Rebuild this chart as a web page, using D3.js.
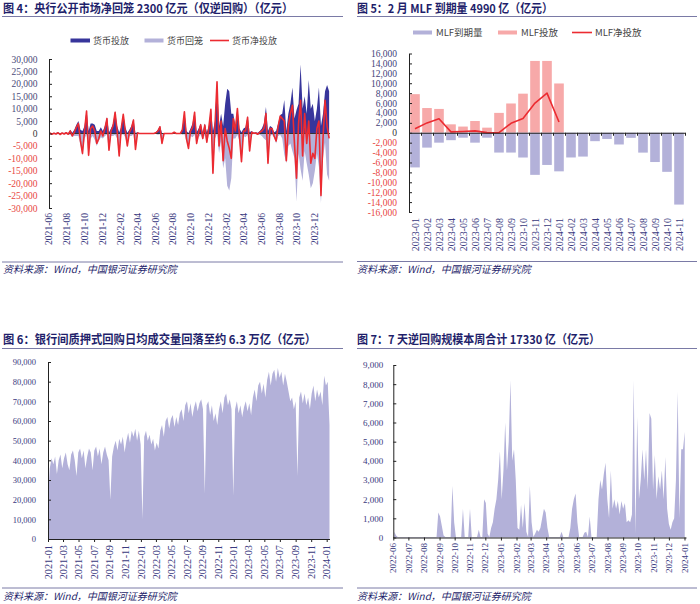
<!DOCTYPE html>
<html><head><meta charset="utf-8">
<script src="https://cdn.jsdelivr.net/npm/d3@7"></script>
<style>body{margin:0;background:#fff}svg{display:block}</style>
</head><body>
<svg id="c" width="700" height="604"></svg>
<script>
// ---------- Figure 4: weekly OMO (亿元), weeks from 2021-06-04 ----------
const inj4 = [300,100,300,200,500,100,300,200,500,100,1500,300,1500,3500,5000,1500,1000,3000,9500,1000,
4000,4000,3500,1000,1000,2500,1000,3000,6500,500,2000,4000,9000,3000,500,2500,8000,2500,300,1500,
3000,5800,200,500,100,100,100,100,100,100,100,100,500,1500,3000,200,100,100,100,100,
100,600,100,100,100,2000,9000,1000,200,2000,4000,9000,500,2000,4000,500,4000,500,3000,10000,
1000,5000,21000,3000,8000,3000,12000,18000,17000,8000,8000,3000,10500,2000,500,2000,2500,7000,500,1000,
300,500,300,1000,2000,4000,10700,1000,3000,2500,500,1000,4000,7500,8000,13500,1000,8000,12000,18500,
6000,9500,12000,27800,10000,15000,8000,21500,10000,12000,5000,10000,18500,3000,8000,17000,19500,17000];
const wd4 = [-100,-400,-200,-400,-200,-500,-100,-400,-200,-400,-500,-1300,-1000,-1000,-1000,-4500,-9000,-2000,-500,-9700,
-2000,-1000,-2500,-5000,-3000,-1500,-2000,-1000,-500,-7200,-1000,-1000,-500,-2000,-9500,-500,-300,-1500,-5300,-1000,
-1000,-400,-6600,-300,-100,-100,-100,-100,-100,-100,-100,-100,-200,-500,-300,-4200,-100,-100,-100,-100,
-100,-100,-100,-100,-100,-500,-300,-3000,-6200,-1000,-1500,-500,-4500,-1500,-500,-2500,-600,-4000,-500,-300,
-17000,-2000,-200,-8000,-3000,-14000,-10000,-21000,-23000,-18000,-2000,-2000,-500,-3000,-11900,-1000,-1500,-500,-7500,-500,
-200,-300,-600,-500,-1000,-2000,-2700,-13000,-1000,-500,-1500,-4000,-1000,-500,-2000,-8500,-12000,-5000,-4000,-7100,
-10000,-27500,-8000,-14400,-19000,-7000,-12000,-16500,-22000,-20000,-15000,-8000,-13500,-28000,-10000,-3600,-16500,-19000];
const net4 = [200,-300,100,-200,300,-400,200,-200,300,-300,1000,-1000,500,2500,4000,-3000,-8000,1000,9000,-8700,
2000,3000,1000,-4000,-2000,1000,-1000,2000,6000,-6700,1000,3000,8500,1000,-9000,2000,7700,1000,-5000,500,
2000,5400,-6400,200,0,0,0,0,0,0,0,0,300,1000,2700,-4000,0,0,0,0,
0,500,0,0,0,1500,8700,-2000,-6000,1000,2500,8500,-4000,500,3500,-2000,3400,-3500,2500,9700,
-16000,3000,20800,-5000,5000,-11000,2000,-3000,-6000,-10000,6000,1000,10000,-1000,-11400,1000,1000,6500,-7000,500,
100,200,-300,500,1000,2000,8000,-12000,2000,2000,-1000,-3000,3000,7000,6000,5000,-11000,3000,8000,11400,
-4000,-18000,4000,13400,-9000,8000,-4000,5000,-12000,-8000,-10000,2000,5000,-25000,-2000,13400,3000,-2000];
const yTicks4 = [-30000,-25000,-20000,-15000,-10000,-5000,0,5000,10000,15000,20000,25000,30000];
const legend4 = ["货币投放","货币回笼","货币净投放"];

// ---------- Figure 5: MLF (亿元) ----------
const cats5 = ["2023-01","2023-02","2023-03","2023-04","2023-05","2023-06","2023-07","2023-08","2023-09","2023-10","2023-11","2023-12",
"2024-01","2024-02","2024-03","2024-04","2024-05","2024-06","2024-07","2024-08","2024-09","2024-10","2024-11"];
const mlfDue = [-7000,-3000,-2000,-1500,-1000,-2000,-1000,-4000,-4000,-5000,-8500,-6500,-7790,-4990,-4810,-1700,-1250,-2370,-1030,-4010,-5910,-7890,-14500];
const mlfIssue = [7790,4990,4810,1700,1250,2370,1030,4010,5910,7890,14500,14500,9950];
const mlfNet = [790,1990,2810,170,250,370,30,10,1910,2890,6000,8000,2160];
const yTicks5 = [-16000,-14000,-12000,-10000,-8000,-6000,-4000,-2000,0,2000,4000,6000,8000,10000,12000,14000,16000];
const legend5 = ["MLF到期量","MLF投放","MLF净投放"];

// ---------- Figure 6: weekly pledged repo daily avg volume (亿元), weeks from 2021-01-01 ----------
const repo6 = [20000,36000,41000,38000,42000,33000,40000,43000,36000,41000,44000,38000,35000,43000,45000,40000,32000,44000,46000,41000,
45000,36000,42000,46000,44000,35000,45000,47000,42000,46000,38000,44000,47000,43000,40000,20000,42000,47000,50000,45000,
51000,48000,52000,44000,50000,54000,49000,55000,52000,56000,50000,55000,48000,10000,52000,55000,50000,53000,48000,51000,
45000,49000,46000,55000,58000,52000,60000,62000,56000,61000,63000,57000,62000,58000,64000,66000,60000,68000,70000,64000,
69000,62000,67000,70000,65000,69000,71000,66000,23000,68000,70000,63000,68000,60000,64000,58000,66000,70000,64000,72000,
74000,68000,71000,66000,22000,66000,70000,64000,68000,62000,67000,70000,65000,69000,63000,72000,76000,70000,78000,80000,
74000,79000,72000,81000,85000,78000,84000,86000,80000,87000,82000,85000,78000,84000,80000,75000,70000,72000,66000,70000,
32000,72000,75000,69000,74000,68000,72000,66000,74000,78000,70000,76000,72000,75000,68000,83000,78000,80000,58000];
const yTicks6 = [0,10000,20000,30000,40000,50000,60000,70000,80000,90000];

// ---------- Figure 7: 7-day reverse repo (亿元), every 3.5 days from 2022-06-03 ----------
const rr7 = [300,100,20,20,20,20,20,20,20,20,20,20,20,20,20,20,20,20,20,20,
20,20,20,20,20,1300,1100,600,100,20,20,20,20,2700,800,20,20,20,20,1500,
20,20,20,1500,20,20,20,20,400,20,20,2000,1800,200,20,500,800,1500,2000,3000,
4500,2000,3500,6000,3500,5000,8200,4000,4600,3000,500,400,1700,500,1800,300,20,2700,800,20,
200,400,300,500,1000,1500,1300,500,20,20,20,20,20,20,20,300,20,20,20,20,
500,1500,2000,2300,800,20,20,20,250,300,20,1100,20,20,20,20,2000,3000,2500,3300,
3900,2000,1000,3500,1500,2000,1500,1900,1200,1900,1500,1800,800,900,800,1200,8200,200,6300,2000,
3000,4600,3000,4600,2500,6500,6200,2500,4300,2000,3200,2500,3500,2000,4200,1500,700,400,800,1000,
3000,7600,1000,4600,4600,5500];
const yTicks7 = [0,1000,2000,3000,4000,5000,6000,7000,8000,9000];

const titles = ["图 4：央行公开市场净回笼 2300 亿元（仅逆回购）（亿元）",
"图 5：2 月 MLF 到期量 4990 亿（亿元）",
"图 6：银行间质押式回购日均成交量回落至约 6.3 万亿（亿元）",
"图 7：7 天逆回购规模本周合计 17330 亿（亿元）"];
const source = "资料来源：Wind，中国银河证券研究院";

// ---------- styles ----------
const NAVY="#1f1f6b", RULE="#7a7aa6", TXT="#3a3a80", LAV="#b3b1d9", BLUE="#37359b", RED="#ec2b31", PINK="#f7a9a9", NEG="#e8473f";
const SERIF="'Liberation Serif','Times New Roman',serif";
const CJK="'Noto Sans CJK SC','Noto Sans',sans-serif";
const fmt = d3.formatLocale({decimal:".",thousands:",",grouping:[3],currency:["",""],minus:"-"}).format(",");
const svg = d3.select("#c");

function header(x, y, text, w, x1, x2, ly){
  svg.append("text").attr("x",x).attr("y",y).attr("font-family",CJK).attr("font-weight","bold")
    .attr("font-size",12).attr("fill",NAVY).attr("textLength",w).attr("lengthAdjust","spacingAndGlyphs").text(text);
  svg.append("line").attr("x1",x1).attr("x2",x2).attr("y1",ly).attr("y2",ly).attr("stroke",RULE).attr("stroke-width",1);
}
function footer(x, y, x1, x2, ly){
  svg.append("line").attr("x1",x1).attr("x2",x2).attr("y1",ly).attr("y2",ly).attr("stroke",RULE).attr("stroke-width",1);
  svg.append("text").attr("x",x).attr("y",y).attr("font-family",CJK).attr("font-style","italic")
    .attr("font-size",10).attr("fill",NAVY).text(source);
}
function yAxis(scale, x, ticks, size, pad, colorFn){
  const g = svg.append("g").attr("transform",`translate(${x},0)`)
    .call(d3.axisLeft(scale).tickValues(ticks).tickFormat(fmt).tickSizeInner(-3).tickSizeOuter(0).tickPadding(pad));
  g.attr("font-family",SERIF);
  g.select(".domain").attr("stroke","#222");
  g.selectAll(".tick line").attr("stroke","#222");
  g.selectAll("text").attr("font-family",SERIF).attr("font-size",size).attr("fill",d=>colorFn(d));
  return g;
}
function xLabels(items, xf, yTop, size){
  svg.append("g").selectAll("text").data(items).join("text")
    .attr("transform",d=>`translate(${xf(d.v)},${yTop}) rotate(-90)`)
    .attr("text-anchor","end").attr("dy","0.35em")
    .attr("font-family",SERIF).attr("font-size",size).attr("fill",TXT).text(d=>d.t);
}
const ym = d3.timeFormat("%Y-%m");

// ================= Figure 4 =================
header(3,13,titles[0],290,2,343,16.5);
const x4 = d3.scaleTime().domain([new Date(2021,5,1), new Date(2024,0,22)]).range([49,330]);
const y4 = d3.scaleLinear().domain([-30000,30000]).range([208,59]);
const d4 = inj4.map((v,i)=>({date:d3.timeDay.offset(new Date(2021,5,4),7*i), inj:v, wd:wd4[i], net:net4[i]}));
svg.append("path").datum(d4).attr("fill",LAV)
  .attr("d",d3.area().x(d=>x4(d.date)).y0(y4(0)).y1(d=>y4(d.wd)));
svg.append("path").datum(d4).attr("fill",BLUE)
  .attr("d",d3.area().x(d=>x4(d.date)).y0(y4(0)).y1(d=>y4(d.inj)));
svg.append("line").attr("x1",49).attr("x2",330).attr("y1",y4(0)).attr("y2",y4(0)).attr("stroke","#333").attr("stroke-width",1);
svg.append("path").datum(d4).attr("fill","none").attr("stroke",RED).attr("stroke-width",1.6).attr("stroke-linejoin","round")
  .attr("d",d3.line().x(d=>x4(d.date)).y(d=>y4(d.net)));
yAxis(y4,49,yTicks4,9.5,11.5,d=>d<0?NEG:(d===0?"#333":"#4a4a78"));
xLabels(d3.timeMonth.range(new Date(2021,5,1),new Date(2024,0,2),2).map(d=>({v:d,t:ym(d)})), x4, 213, 9.6);
{
  const g = svg.append("g").attr("font-family",CJK).attr("font-size",9).attr("fill","#444");
  g.append("rect").attr("x",70.5).attr("y",38.5).attr("width",19.5).attr("height",4).attr("fill",BLUE);
  g.append("text").attr("x",93).attr("y",43.5).text(legend4[0]);
  g.append("rect").attr("x",144.5).attr("y",38.5).attr("width",19).attr("height",4).attr("fill",LAV);
  g.append("text").attr("x",167).attr("y",43.5).text(legend4[1]);
  g.append("line").attr("x1",210).attr("x2",229).attr("y1",40.5).attr("y2",40.5).attr("stroke",RED).attr("stroke-width",1.6);
  g.append("text").attr("x",232).attr("y",43.5).text(legend4[2]);
}
footer(3,273,2,343,262);

// ================= Figure 5 =================
header(357,13,titles[1],196,357,697,16.5);
const x5 = d3.scaleBand().domain(cats5).range([409,685]).paddingInner(0.2).paddingOuter(0.1);
const y5 = d3.scaleLinear().domain([-16000,16000]).range([212,53.5]);
svg.append("g").selectAll("rect").data(mlfIssue).join("rect")
  .attr("x",(d,i)=>x5(cats5[i])).attr("width",x5.bandwidth())
  .attr("y",d=>y5(d)).attr("height",d=>y5(0)-y5(d)).attr("fill",PINK);
svg.append("g").selectAll("rect").data(mlfDue).join("rect")
  .attr("x",(d,i)=>x5(cats5[i])).attr("width",x5.bandwidth())
  .attr("y",y5(0)).attr("height",d=>y5(d)-y5(0)).attr("fill",LAV);
svg.append("path").datum(mlfNet).attr("fill","none").attr("stroke",RED).attr("stroke-width",1.6).attr("stroke-linejoin","round")
  .attr("d",d3.line().x((d,i)=>x5(cats5[i])+x5.bandwidth()/2).y(d=>y5(d)));
{
  const g = svg.append("g").attr("transform",`translate(0,${y5(0)})`)
    .call(d3.axisBottom(d3.scalePoint().domain(d3.range(24)).range([409,685])).tickSizeInner(3).tickSizeOuter(0).tickFormat(""));
  g.select(".domain").attr("stroke","#222");
  g.selectAll(".tick line").attr("stroke","#222");
}
yAxis(y5,409,yTicks5,9.5,12,d=>d<0?NEG:(d===0?"#333":"#3f3f7a"));
xLabels(cats5.map(c=>({v:c,t:c})), c=>x5(c)+x5.bandwidth()/2, 218, 10);
{
  const g = svg.append("g").attr("font-family",CJK).attr("font-size",9.5).attr("fill","#444");
  g.append("rect").attr("x",413).attr("y",30.5).attr("width",19).attr("height",4).attr("fill",LAV);
  g.append("text").attr("x",436).attr("y",36).text(legend5[0]);
  g.append("rect").attr("x",498).attr("y",30.5).attr("width",19).attr("height",4).attr("fill",PINK);
  g.append("text").attr("x",521).attr("y",36).text(legend5[1]);
  g.append("line").attr("x1",572).attr("x2",592).attr("y1",32.5).attr("y2",32.5).attr("stroke",RED).attr("stroke-width",1.6);
  g.append("text").attr("x",595).attr("y",36).text(legend5[2]);
}
footer(357,273,357,697,261.5);

// ================= Figure 6 =================
header(3,344,titles[2],313,2,343,348.5);
const x6 = d3.scaleTime().domain([new Date(2021,0,1), new Date(2024,0,12)]).range([48,329.5]);
const y6 = d3.scaleLinear().domain([0,90000]).range([539,362]);
const d6 = repo6.map((v,i)=>({date:d3.timeDay.offset(new Date(2021,0,1),7*i), v}));
svg.append("path").datum(d6).attr("fill",LAV)
  .attr("d",d3.area().x(d=>x6(d.date)).y0(y6(0)).y1(d=>y6(d.v)));
{
  const g = svg.append("g").attr("transform",`translate(0,${y6(0)})`)
    .call(d3.axisBottom(x6).tickValues(d3.timeMonth.range(new Date(2021,0,1),new Date(2024,0,2),2)).tickSizeInner(3).tickSizeOuter(0).tickFormat(""));
  g.select(".domain").attr("stroke","#222");
  g.selectAll(".tick line").attr("stroke","#222");
}
yAxis(y6,48,yTicks6,8.5,12,()=>TXT);
xLabels(d3.timeMonth.range(new Date(2021,0,1),new Date(2024,0,2),2).map(d=>({v:d,t:ym(d)})), x6, 545, 10.3);
footer(3,600,2,343,588);

// ================= Figure 7 =================
header(357,344,titles[3],243,357,697,348.5);
const x7 = d3.scaleTime().domain([new Date(2022,5,1), new Date(2024,0,4)]).range([393.3,686]);
const y7 = d3.scaleLinear().domain([0,9000]).range([537.5,365]);
const d7 = rr7.map((v,i)=>({date:d3.timeHour.offset(new Date(2022,5,3),84*i), v}));
svg.append("path").datum(d7).attr("fill",LAV)
  .attr("d",d3.area().x(d=>x7(d.date)).y0(y7(0)).y1(d=>y7(d.v)));
{
  const g = svg.append("g").attr("transform",`translate(0,${y7(0)})`)
    .call(d3.axisBottom(x7).tickValues(d3.timeMonth.range(new Date(2022,5,1),new Date(2024,0,2))).tickSizeInner(3).tickSizeOuter(0).tickFormat(""));
  g.select(".domain").attr("stroke","#222");
  g.selectAll(".tick line").attr("stroke","#222");
}
yAxis(y7,393.3,yTicks7,9,10,()=>TXT);
xLabels(d3.timeMonth.range(new Date(2022,5,1),new Date(2024,0,2)).map(d=>({v:d,t:ym(d)})), x7, 543, 9);
footer(357,600,357,697,588);
</script>
</body></html>
